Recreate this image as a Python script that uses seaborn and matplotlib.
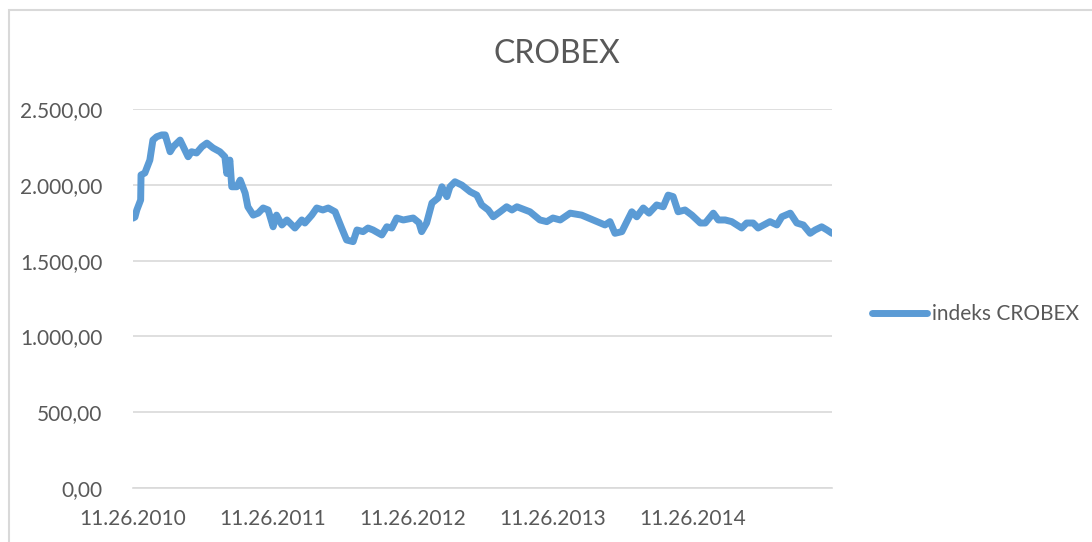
import matplotlib
matplotlib.use("Agg")
import matplotlib.pyplot as plt
from matplotlib.patches import Rectangle
import seaborn as sns
import pandas as pd

# CROBEX index values (approximate)
dates = [
    "2010-11-26", "2010-12-01", "2010-12-06", "2010-12-16", "2010-12-17", "2010-12-27",
    "2011-01-09", "2011-01-17", "2011-01-27", "2011-02-09", "2011-02-18", "2011-03-03",
    "2011-03-11", "2011-03-29", "2011-04-19", "2011-04-28", "2011-05-11", "2011-05-25",
    "2011-06-07", "2011-06-23", "2011-07-11", "2011-07-24", "2011-07-29", "2011-08-06",
    "2011-08-11", "2011-08-24", "2011-09-02", "2011-09-15", "2011-09-22", "2011-10-06",
    "2011-10-19", "2011-11-01", "2011-11-14", "2011-11-27", "2011-12-06", "2011-12-20",
    "2012-01-02", "2012-01-23", "2012-02-10", "2012-02-18", "2012-03-07", "2012-03-20",
    "2012-04-05", "2012-04-19", "2012-05-07", "2012-05-24", "2012-06-06", "2012-06-23",
    "2012-07-03", "2012-07-19", "2012-08-01", "2012-08-14", "2012-09-06", "2012-09-19",
    "2012-10-02", "2012-10-15", "2012-11-01", "2012-11-27", "2012-12-12", "2012-12-19",
    "2013-01-01", "2013-01-15", "2013-01-31", "2013-02-10", "2013-02-23", "2013-03-03",
    "2013-03-16", "2013-04-03", "2013-04-25", "2013-05-12", "2013-05-25", "2013-06-11",
    "2013-06-24", "2013-07-12", "2013-07-29", "2013-08-12", "2013-08-25", "2013-09-28",
    "2013-10-24", "2013-11-11", "2013-11-27", "2013-12-16", "2014-01-11", "2014-02-10",
    "2014-03-12", "2014-04-12", "2014-04-25", "2014-05-08", "2014-05-26", "2014-06-08",
    "2014-06-21", "2014-07-04", "2014-07-21", "2014-08-05", "2014-08-25", "2014-09-11",
    "2014-09-24", "2014-10-07", "2014-10-20", "2014-11-07", "2014-11-25", "2014-12-17",
    "2014-12-30", "2015-01-20", "2015-02-02", "2015-02-20", "2015-03-09", "2015-04-04",
    "2015-04-17", "2015-05-04", "2015-05-17", "2015-06-17", "2015-07-05", "2015-07-18",
    "2015-08-09", "2015-08-26", "2015-09-12", "2015-09-30", "2015-10-13", "2015-10-30",
    "2015-11-13", "2015-11-26",
]
crobex = [
    1780, 1787, 1834, 1900, 2065, 2078,
    2163, 2295, 2317, 2329, 2329, 2218,
    2251, 2295, 2185, 2218, 2210, 2251,
    2275, 2243, 2218, 2185, 2075, 2163,
    1987, 1987, 2031, 1945, 1855, 1800,
    1813, 1847, 1834, 1723, 1800, 1735,
    1768, 1715, 1768, 1748, 1800, 1847,
    1834, 1847, 1822, 1715, 1636, 1625,
    1702, 1691, 1715, 1702, 1669, 1723,
    1715, 1781, 1768, 1781, 1750, 1691,
    1748, 1880, 1913, 1987, 1922, 1987,
    2020, 1998, 1954, 1932, 1867, 1834,
    1789, 1822, 1855, 1834, 1855, 1822,
    1768, 1757, 1781, 1768, 1813, 1800,
    1768, 1735, 1757, 1680, 1691, 1757,
    1822, 1789, 1847, 1813, 1867, 1855,
    1932, 1922, 1822, 1834, 1800, 1748,
    1748, 1813, 1768, 1768, 1757, 1715,
    1748, 1748, 1715, 1757, 1735, 1789,
    1813, 1748, 1735, 1680, 1702, 1723,
    1702, 1680,
]
tick_dates = ["2010-11-26", "2011-11-26", "2012-11-26", "2013-11-26", "2014-11-26", "2015-11-26"]
tick_labels = ["11.26.2010", "11.26.2011", "11.26.2012", "11.26.2013", "11.26.2014", ""]
y_ticks = [0, 500, 1000, 1500, 2000, 2500]

df = pd.DataFrame({"date": pd.to_datetime(dates), "indeks CROBEX": crobex})

# Excel-like look
sns.set_style("white")
plt.rcParams['font.family'] = ['Lato', 'DejaVu Sans']
text_grey = "#595959"
grid_grey = "#D9D9D9"
line_blue = "#5B9BD5"

fig = plt.figure(figsize=(10.92, 5.42), dpi=100)
ax = fig.add_axes([133 / 1092, 1 - 488 / 542, (832 - 133) / 1092, (488 - 109) / 542])

sns.lineplot(data=df, x="date", y="indeks CROBEX", color=line_blue, linewidth=5,
             solid_capstyle="round", solid_joinstyle="round", label="indeks CROBEX",
             ax=ax, legend=False)

ax.set_xlim(pd.Timestamp(tick_dates[0]), pd.Timestamp(tick_dates[-1]))
ax.set_ylim(0, 2500)
ax.set_xticks(pd.to_datetime(tick_dates))
ax.set_xticklabels(tick_labels)
ax.set_yticks(y_ticks)
ax.set_yticklabels([f"{v:,.2f}".replace(",", "X").replace(".", ",").replace("X", ".") for v in y_ticks])
ax.set_xlabel("")
ax.set_ylabel("")

# gridlines and axis line
ax.grid(axis="y", color=grid_grey, linewidth=1.2)
ax.set_axisbelow(True)
for side in ["top", "right", "left"]:
    ax.spines[side].set_visible(False)
ax.spines["bottom"].set_color(grid_grey)
ax.spines["bottom"].set_linewidth(1.2)
ax.tick_params(axis="x", colors=grid_grey, length=7, width=1.2, pad=8, labelsize=15,
               labelcolor=text_grey)
ax.tick_params(axis="y", length=0, pad=22, labelsize=15, labelcolor=text_grey)

# title
fig.text(557 / 1092, 1 - 54 / 542, "CROBEX", ha="center", va="center", fontsize=23, color=text_grey)

# legend on the right
handles, labels = ax.get_legend_handles_labels()
fig.legend(handles, labels, loc="center left", bbox_to_anchor=(864 / 1092, 1 - 314 / 542),
           frameon=False, fontsize=15, labelcolor=text_grey, handlelength=2.6,
           handletextpad=0.25, borderaxespad=0)

# chart area border (cut off at right and bottom like the screenshot)
fig.patches.append(Rectangle((9 / 1092, -0.1), 1.2, 1 - 10 / 542 + 0.1, transform=fig.transFigure,
                             fill=False, edgecolor=grid_grey, linewidth=1.5))

fig.savefig("out.png", dpi=100)
